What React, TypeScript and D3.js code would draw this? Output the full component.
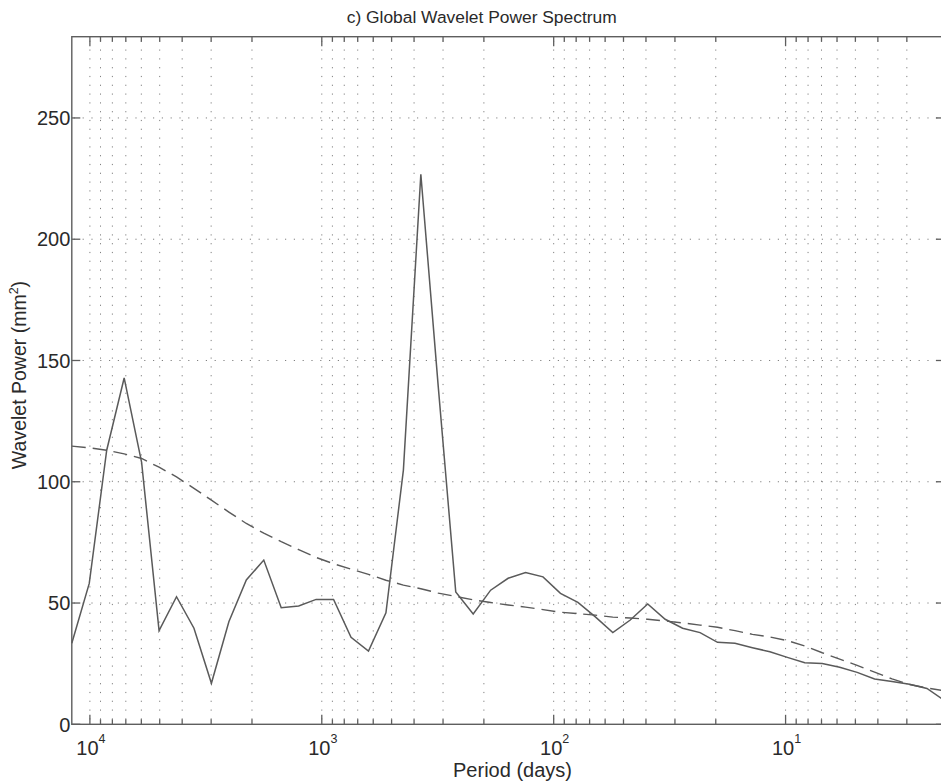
import React from "react";
import * as d3 from "d3";

const periods: number[] = [11968, 10064, 8462.6, 7116.2, 5984.0, 5032.0, 4231.3, 3558.1, 2992.0, 2516.0, 2115.6, 1779.0, 1496.0, 1258.0, 1057.8, 889.51, 747.98, 628.98, 528.9, 444.76, 373.99, 314.49, 264.45, 222.38, 187.0, 157.24, 132.22, 111.19, 93.499, 78.622, 66.112, 55.595, 46.75, 39.311, 33.056, 27.797, 23.375, 19.656, 16.528, 13.899, 11.687, 9.828, 8.264, 6.949, 5.844, 4.914, 4.132, 3.475, 2.922, 2.457, 2.066];

const globalPower: number[] = [33.4, 58.1, 113, 142.8, 108, 38.6, 52.6, 39.6, 16.9, 42.3, 59.5, 67.7, 48.1, 48.8, 51.5, 51.5, 35.9, 30.2, 46.0, 104.8, 226.8, 139, 54.6, 45.5, 55.3, 60.2, 62.6, 60.8, 54.0, 50.3, 44.3, 37.8, 43.0, 49.6, 43.3, 39.6, 37.8, 33.8, 33.4, 31.6, 29.9, 27.6, 25.4, 25.1, 23.5, 21.4, 18.7, 17.6, 16.5, 14.8, 9.8];

const significance: number[] = [114.7, 114.0, 113.0, 111.5, 109.6, 106.0, 102.0, 97.3, 92.4, 87.5, 82.8, 78.8, 75.3, 72.0, 68.8, 66.2, 64.0, 61.8, 59.4, 57.4, 55.9, 54.1, 52.7, 51.3, 50.2, 49.2, 48.3, 47.3, 46.2, 45.6, 45.0, 44.2, 43.8, 43.3, 42.6, 41.8, 40.9, 40.0, 38.6, 37.1, 36.0, 34.5, 32.3, 29.5, 26.9, 24.3, 21.5, 18.7, 16.4, 15.0, 13.8];

const xMajorTicks: number[] = [10000, 1000, 100, 10];
const xMajorExponents: string[] = ["4", "3", "2", "1"];
const yTicks: number[] = [0, 50, 100, 150, 200, 250];
const yMax = 283.5;

const titleText = "c) Global Wavelet Power Spectrum";
const xLabel = "Period (days)";

export default function App() {
  const left = 71.8;
  const right = 944.4;
  const top = 36.7;
  const bottom = 724.3;
  const x = d3.scaleLog().domain([periods[0], periods[periods.length - 1]]).range([left, right]);
  const y = d3.scaleLinear().domain([0, yMax]).range([bottom, top]);

  const allXTicks = x.ticks(20).filter((t) => t <= periods[0] && t >= periods[periods.length - 1]);
  const isMajor = (t: number) => xMajorTicks.some((m) => Math.abs(m - t) / m < 1e-6);

  const line = d3
    .line<number>()
    .x((_, i) => x(periods[i]))
    .y((d) => y(d));

  const axisColor = "#5e5e5e";
  const gridColor = "#808080";
  const lineColor = "#5a5a5a";
  const font = "'Liberation Sans', Arial, Helvetica, sans-serif";

  return (
    <svg
      width={941}
      height={783}
      style={{ position: "absolute", left: 0, top: 0, background: "#fff" }}
      fontFamily={font}
    >
      <rect x={0} y={0} width={941} height={783} fill="#fff" />
      {/* grid */}
      <g stroke={gridColor} strokeWidth={1} strokeDasharray="1.2,7.6" fill="none">
        {allXTicks.map((t, i) => (
          <line key={"vg" + i} x1={x(t)} x2={x(t)} y1={top + 4} y2={bottom} />
        ))}
        {yTicks.filter((t) => t > 0).map((t, i) => (
          <line key={"hg" + i} x1={left + 2} x2={right} y1={y(t)} y2={y(t)} />
        ))}
      </g>
      {/* data */}
      <path d={line(significance) || ""} fill="none" stroke={lineColor} strokeWidth={1.4} strokeDasharray="14,7" />
      <path d={line(globalPower) || ""} fill="none" stroke={lineColor} strokeWidth={1.5} strokeLinejoin="miter" />
      {/* axes box */}
      <rect x={left} y={top} width={right - left} height={bottom - top} fill="none" stroke={axisColor} strokeWidth={1.4} />
      {/* x ticks */}
      <g stroke={axisColor} strokeWidth={1.3}>
        {allXTicks.map((t, i) => {
          const len = isMajor(t) ? 9.5 : 5;
          return (
            <g key={"xt" + i}>
              <line x1={x(t)} x2={x(t)} y1={bottom} y2={bottom - len} />
              <line x1={x(t)} x2={x(t)} y1={top} y2={top + len} />
            </g>
          );
        })}
        {yTicks.map((t, i) => (
          <g key={"yt" + i}>
            <line x1={left} x2={left + 8.5} y1={y(t)} y2={y(t)} />
            <line x1={right} x2={right - 8.5} y1={y(t)} y2={y(t)} />
          </g>
        ))}
      </g>
      {/* y tick labels */}
      <g fill="#2a2a2a" fontSize={20} textAnchor="end">
        {yTicks.map((t, i) => (
          <text key={"yl" + i} x={left - 1.5} y={y(t) + 7.2}>
            {t}
          </text>
        ))}
      </g>
      {/* x tick labels */}
      <g fill="#2a2a2a" fontSize={20} textAnchor="middle">
        {xMajorTicks.map((t, i) => (
          <text key={"xl" + i} x={x(t) + 1} y={755}>
            10
            <tspan fontSize={12.5} dy={-12}>
              {xMajorExponents[i]}
            </tspan>
          </text>
        ))}
      </g>
      {/* axis labels */}
      <text x={512.5} y={777} fontSize={20} textAnchor="middle" fill="#2a2a2a">
        {xLabel}
      </text>
      <text
        transform={`translate(25.5,375) rotate(-90)`}
        fontSize={19.5}
        textAnchor="middle"
        fill="#2a2a2a"
      >
        Wavelet Power (mm
        <tspan fontSize={12.5} dy={-8}>
          2
        </tspan>
        <tspan dy={8}>)</tspan>
      </text>
      <text x={481.7} y={22.7} fontSize={17.4} textAnchor="middle" fill="#2a2a2a">
        {titleText}
      </text>
    </svg>
  );
}
